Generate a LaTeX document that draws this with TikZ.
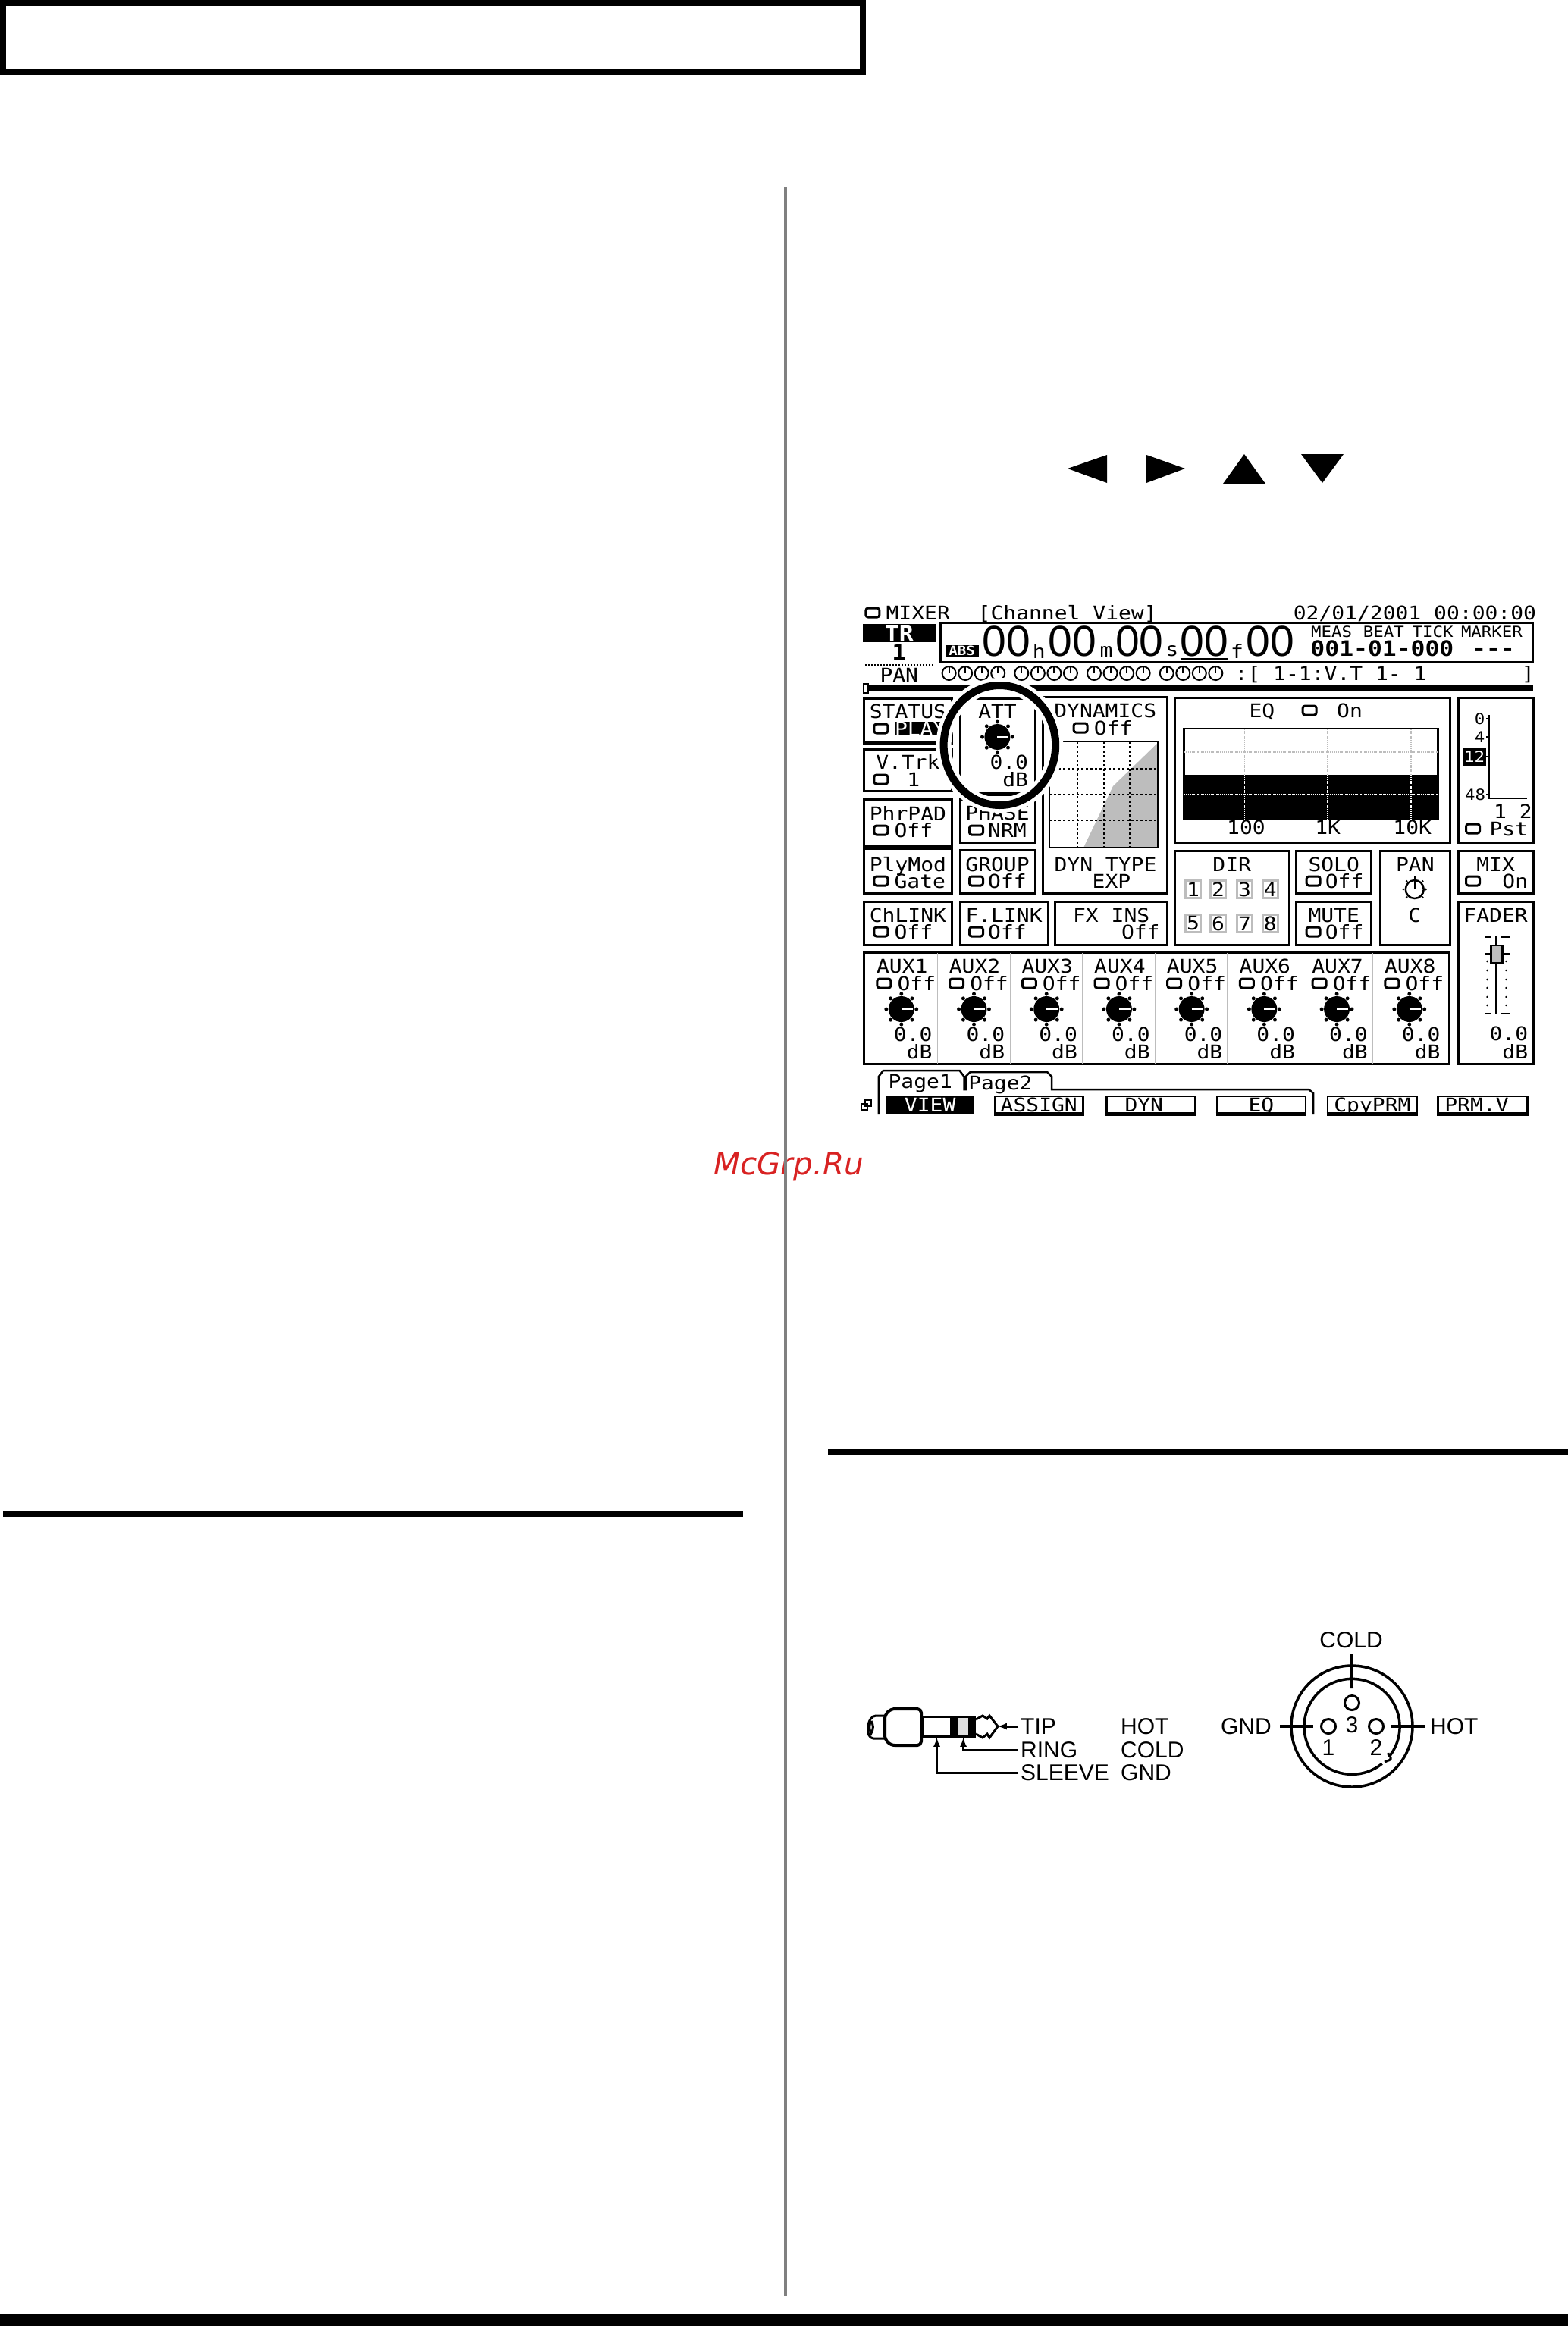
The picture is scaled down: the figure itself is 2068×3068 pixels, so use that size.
\documentclass[tikz,border=0pt]{standalone}
\usepackage{fontspec}
\usepackage{tikz}
\usetikzlibrary{positioning, arrows, shapes, shapes.geometric}

\setmainfont{Liberation Sans}
\newfontfamily\monofam[FakeStretch=1.12]{DejaVu Sans Mono}
\newfontfamily\stampfam{DejaVu Sans}
\newcommand{\lcdfont}{\fontsize{25}{27}\selectfont\monofam}
\newcommand{\lcdsmall}{\fontsize{20}{22}\selectfont\monofam}
\newcommand{\lcdbold}{\fontsize{28}{30}\selectfont\monofam\bfseries}
\newcommand{\bigdigits}{\fontsize{57}{60}\selectfont}
\newcommand{\jackfont}{\fontsize{30}{32}\selectfont}

\definecolor{rulegrey}{HTML}{808080}
\definecolor{lightgrey}{HTML}{BDBDBD}
\definecolor{stampred}{HTML}{D82222}

\tikzset{
	panel/.style={rectangle, draw, line width=3pt, inner sep=0pt, anchor=north west},
	lcd/.style={font=\lcdfont, inner sep=0pt, text height=18pt, text depth=0pt},
	lcdsm/.style={font=\lcdsmall, inner sep=0pt, text height=15pt, text depth=0pt},
	chk/.style={rectangle, draw, line width=3pt, rounded corners=3pt, inner sep=0pt, minimum width=18pt, minimum height=12pt},
	softkey/.style={rectangle, draw, line width=2.5pt, inner sep=0pt, minimum height=22pt, font=\lcdfont, text height=18pt, text depth=0pt},
	dirkey/.style={rectangle, draw=lightgrey, line width=2.5pt, inner sep=0pt, minimum width=20pt, minimum height=23pt, font=\lcdfont},
	jacklab/.style={font=\jackfont, inner sep=3pt, text height=21pt, text depth=0pt, anchor=west},
}

% check box with its value on the right
\newcommand{\togglerow}[4]{
	\node[chk] (#1chk) at (#2,#3) {};
	\node[lcd, right = 7pt of #1chk] (#1val) {#4};
}
% black dial with ticks round it
\newcommand{\bigknob}[2]{
	\fill (#1,#2) circle (17);
	\foreach \a in {0,45,...,315} {
		\fill (#1,#2) ++(\a:20) circle (2.5);
	}
	\draw[white, line width=2pt] (#1,#2) -- ++(15,0);
}

\begin{document}
\begin{tikzpicture}[x=1pt, y=-1pt]
	\useasboundingbox (0,0) rectangle (2068,3068);

	% page frame and rules
	\draw[line width=8pt] (4,4) rectangle (1138,95);
	\fill (0,3052) rectangle (2068,3068);
	\fill (4,1993) rectangle (980,2001);
	\fill (1092,1911) rectangle (2068,1919);
	\node[font=\fontsize{40.5}{42}\selectfont\stampfam\itshape, text=stampred, inner sep=0pt, text height=29pt, text depth=0pt] (stamp) at (1040,1535) {McGrp.Ru};
	\fill[rulegrey] (1034,246) rectangle (1038,3028);

	% cursor buttons
	\fill (1408,618) -- (1460,600) -- (1460,637) -- cycle;
	\fill (1563,618) -- (1512,600) -- (1512,637) -- cycle;
	\fill (1641,599) -- (1613,638) -- (1669,638) -- cycle;
	\fill (1744,637) -- (1716,599) -- (1772,599) -- cycle;

	\begin{scope}[shift={(3.36,0)}, x=0.997pt]
	% head of the screen
	\node[chk] (mixchk) at (1151,808) {};
	\node[lcd, right = 7pt of mixchk] (mixer) {MIXER};
	\node[lcd, anchor=west] (view) at (1290,808) {[Channel View]};
	\node[lcd, anchor=east] (clock) at (2029,808) {02/01/2001 00:00:00};

	\node[rectangle, fill=black, text=white, font=\lcdbold, inner sep=0pt, minimum width=96pt, minimum height=24pt] (tr) at (1186,835) {TR};
	\node[font=\lcdbold, inner sep=0pt, text height=20pt, text depth=0pt, below = 3pt of tr] (trnum) {1};

	\node[panel, minimum width=781pt, minimum height=52pt] (timebox) at (1239,820) {};
	\node[rectangle, fill=black, text=white, font=\fontsize{17}{18}\selectfont\monofam\bfseries, inner sep=0pt, minimum width=44pt, minimum height=15pt] (abs) at (1269,858) {ABS};
	\foreach \n/\x/\u/\ux in {a/1328/h/1371, b/1415/m/1460, c/1504/s/1547, d/1590/f/1633} {
		\node[font=\bigdigits, inner sep=0pt, text height=40pt, text depth=0pt] (time\n) at (\x,845) {00};
		\node[font=\lcdfont, inner sep=0pt] (unit\n) at (\ux,859) {\u};
	}
	\node[font=\bigdigits, inner sep=0pt, text height=40pt, text depth=0pt] (timee) at (1677,845) {00};
	\draw[line width=2.5pt] (1558,869) -- (1621,869);

	\foreach \t/\x in {MEAS/1758, BEAT/1827, TICK/1892, MARKER/1970} {
		\node[lcdsm] (head\t) at (\x,833) {\t};
	}
	\node[font=\lcdbold, inner sep=0pt, text height=20pt, text depth=0pt] (pos) at (1825,855) {001-01-000};
	\node[font=\lcdbold, inner sep=0pt, text height=20pt, text depth=0pt] (marker) at (1972,855) {---};

	% pan row
	\draw[line width=2pt, dotted] (1141,877) -- (1233,877);
	\node[lcd] (panrow) at (1186,890) {PAN};
	\foreach \g in {1242,1338,1434,1530} {
		\foreach \i in {0,1,2,3} {
			\draw[line width=2pt] (\g+10+21.6*\i,888) circle (9);
			\draw[line width=2pt] (\g+10+21.6*\i,888) -- ++(0,-9);
		}
	}
	\node[lcd, anchor=west] (trackname) at (1630,888) {:[ 1-1:V.T 1- 1};
	\node[lcd] (trackend) at (2018,888) {]};
	\fill (1138,904) rectangle (2025,912);
	\draw[line width=2pt, fill=white] (1139,902) rectangle (1145,914);

	% left columns
	\node[panel, minimum width=116pt, minimum height=57pt] (status) at (1138,920) {};
	\node[lcd, below = 9pt of status.north] (statustxt) {STATUS};
	\node[chk] (statuschk) at (1162,961) {};
	\node[rectangle, fill=black, text=white, font=\lcdfont, inner sep=0pt, minimum width=65pt, minimum height=18pt, anchor=west] (statusval) at (1180,961) {PLAY};
	\draw[line width=5pt] (status.south west) -- (status.south east);
	\node[panel, minimum width=116pt, minimum height=55pt] (vtrk) at (1138,987) {};
	\node[lcd, below = 9pt of vtrk.north] (vtrktxt) {V.Trk};
	\node[chk] (vtrkchk) at (1162,1028) {};
	\node[lcd] (vtrkval) at (1205,1028) {1};
	\node[panel, minimum width=116pt, minimum height=62pt] (phrpad) at (1138,1053) {};
	\node[lcd, below = 11pt of phrpad.north] (phrpadtxt) {PhrPAD};
	\togglerow{phrpad}{1162}{1095}{Off}
	\node[panel, minimum width=116pt, minimum height=59pt] (plymod) at (1138,1118) {};
	\node[lcd, below = 13pt of plymod.north] (plymodtxt) {PlyMod};
	\togglerow{plymod}{1162}{1162}{Gate}
	\node[panel, minimum width=116pt, minimum height=57pt] (chlink) at (1138,1188) {};
	\node[lcd, below = 10pt of chlink.north] (chlinktxt) {ChLINK};
	\togglerow{chlink}{1162}{1229}{Off}

	\node[panel, minimum width=99pt, minimum height=124pt] (att) at (1265,920) {};
	\node[lcd, below = 9pt of att.north] (atttxt) {ATT};
	\bigknob{1316}{972}
	\node[lcd, anchor=east] (attval) at (1357,1005) {0.0};
	\node[lcd, anchor=east] (attunit) at (1357,1028) {dB};
	\draw[line width=5pt] (att.south west) -- (att.south east);
	\node[panel, minimum width=99pt, minimum height=57pt] (phase) at (1265,1053) {};
	\node[lcd, below = 10pt of phase.north] (phasetxt) {PHASE};
	\node[chk] (phasechk) at (1288,1095) {};
	\node[lcd, right = 5pt of phasechk] (phaseval) {NRM};
	\node[panel, minimum width=99pt, minimum height=57pt] (group) at (1265,1120) {};
	\node[lcd, below = 11pt of group.north] (grouptxt) {GROUP};
	\node[chk] (groupchk) at (1288,1162) {};
	\node[lcd, right = 5pt of groupchk] (groupval) {Off};
	\node[panel, minimum width=116pt, minimum height=57pt] (flink) at (1265,1188) {};
	\node[lcd, below = 10pt of flink.north] (flinktxt) {F.LINK};
	\node[chk] (flinkchk) at (1288,1229) {};
	\node[lcd, right = 5pt of flinkchk] (flinkval) {Off};
	\node[panel, minimum width=148pt, minimum height=57pt] (fxins) at (1391,1188) {};
	\node[lcd, below = 10pt of fxins.north] (fxinstxt) {FX INS};
	\node[lcd, anchor=east] (fxinsval) at (1531,1229) {Off};

	% dynamics
	\node[panel, minimum width=164pt, minimum height=259pt] (dyn) at (1375,918) {};
	\node[lcd, below = 10pt of dyn.north] (dyntxt) {DYNAMICS};
	\node[chk] (dynchk) at (1426,960) {};
	\node[lcd, right = 7pt of dynchk] (dynval) {Off};
	\fill[lightgrey] (1430,1118) -- (1469,1037) -- (1528,980) -- (1528,1118) -- cycle;
	\draw[line width=2.5pt] (1385,978) rectangle (1528,1118);
	\foreach \x in {1422,1457,1491} {
		\draw[line width=2.5pt, dash pattern=on 3pt off 3pt] (\x,978) -- (\x,1118);
	}
	\foreach \y in {1014,1048,1082} {
		\draw[line width=2.5pt, dash pattern=on 3pt off 3pt] (1385,\y) -- (1528,\y);
	}
	\node[lcd] (dyntype) at (1459,1140) {DYN TYPE};
	\node[lcd, below = 4pt of dyntype] (dynexp) {\hspace*{16pt}EXP};

	% eq
	\node[panel, minimum width=363pt, minimum height=191pt] (eq) at (1549,919) {};
	\node[lcd] (eqtxt) at (1666,937) {EQ};
	\node[chk] (eqchk) at (1729,937) {};
	\node[lcd] (eqval) at (1782,937) {On};
	\fill (1563,1022) rectangle (1899,1080);
	\draw[line width=2.5pt] (1563,961) rectangle (1899,1080);
	\foreach \x in {1643,1753,1863} {
		\draw[lightgrey, line width=1.5pt, densely dotted] (\x,961) -- (\x,1022);
		\draw[white, line width=1.5pt, densely dotted] (\x,1022) -- (\x,1080);
	}
	\draw[lightgrey, line width=1.5pt, densely dotted] (1563,992) -- (1899,992);
	\draw[white, line width=1.5pt, densely dotted] (1563,1048) -- (1899,1048);
	\node[lcd] (eqa) at (1645,1091) {100};
	\node[lcd] (eqb) at (1753,1091) {1K};
	\node[lcd] (eqc) at (1865,1091) {10K};

	% level meter
	\node[panel, minimum width=99pt, minimum height=191pt] (meter) at (1924,919) {};
	\draw[line width=2pt] (1967,943) -- (1967,1053) -- (2017,1053);
	\foreach \y in {948,972,998,1048} {
		\draw[line width=2pt] (1963,\y) -- (1967,\y);
	}
	\node[lcdsm] (metera) at (1954,948) {0};
	\node[lcdsm] (meterb) at (1954,972) {4};
	\node[rectangle, fill=black, text=white, font=\lcdsmall, inner sep=0pt, minimum width=30pt, minimum height=23pt] (meterc) at (1947,998) {12};
	\node[lcdsm] (meterd) at (1948,1048) {48};
	\node[lcd] (metercols) at (1998,1070) {1 2};
	\node[chk] (meterchk) at (1945,1093) {};
	\node[lcd, anchor=east] (meterval) at (2018,1093) {Pst};

	% dir, solo, mute, pan, mix
	\node[panel, minimum width=151pt, minimum height=124pt] (dir) at (1549,1121) {};
	\node[lcd, below = 10pt of dir.north] (dirtxt) {DIR};
	\foreach \n/\x in {1/1575, 2/1608, 3/1643, 4/1677} {
		\node[dirkey] (dirup\n) at (\x,1173) {\n};
	}
	\foreach \n/\x in {5/1575, 6/1608, 7/1643, 8/1677} {
		\node[dirkey] (dirdn\n) at (\x,1218) {\n};
	}
	\node[panel, minimum width=99pt, minimum height=56pt] (solo) at (1710,1121) {};
	\node[lcd, below = 10pt of solo.north] (solotxt) {SOLO};
	\node[chk] (solochk) at (1734,1162) {};
	\node[lcd, right = 5pt of solochk] (soloval) {Off};
	\node[panel, minimum width=99pt, minimum height=57pt] (mute) at (1710,1188) {};
	\node[lcd, below = 10pt of mute.north] (mutetxt) {MUTE};
	\node[chk] (mutechk) at (1734,1229) {};
	\node[lcd, right = 5pt of mutechk] (muteval) {Off};
	\node[panel, minimum width=92pt, minimum height=124pt] (pan) at (1821,1121) {};
	\node[lcd, below = 10pt of pan.north] (pantxt) {PAN};
	\draw[line width=2.5pt] (1868,1173) circle (12);
	\draw[line width=2.5pt] (1868,1173) -- ++(0,-17);
	\foreach \a in {-45,0,45,135,180,225} {
		\fill (1868,1173) ++(\a:15) circle (1.5);
	}
	\node[lcd] (panval) at (1868,1207) {C};
	\node[panel, minimum width=99pt, minimum height=56pt] (mix) at (1924,1121) {};
	\node[lcd, below = 10pt of mix.north] (mixtxt) {MIX};
	\node[chk] (mixonchk) at (1945,1162) {};
	\node[lcd, anchor=east] (mixval) at (2018,1162) {On};

	% aux sends
	\node[panel, minimum width=772pt, minimum height=147pt] (aux) at (1138,1255) {};
	\foreach \i in {1,...,7} {
		\draw[lightgrey, line width=1.5pt] (1237+95.9*\i-95.9,1257) -- (1237+95.9*\i-95.9,1403);
	}
	\foreach \i in {1,...,8} {
		\pgfmathsetmacro{\cx}{1094+96*\i}
		\node[lcd] (aux\i txt) at (\cx,1274) {AUX\i};
		\togglerow{aux\i}{\cx-24}{1297}{Off}
		\bigknob{\cx-1}{1331}
		\node[lcd, anchor=east] (aux\i amt) at (\cx+40,1364) {0.0};
		\node[lcd, anchor=east] (aux\i unit) at (\cx+40,1387) {dB};
	}

	% fader
	\node[panel, minimum width=99pt, minimum height=214pt] (fader) at (1924,1188) {};
	\node[lcd, below = 10pt of fader.north] (fadertxt) {FADER};
	\draw[line width=2.5pt] (1976,1235) -- (1976,1338);
	\foreach \y in {1236,1337} {
		\draw[line width=2.5pt] (1961,\y) -- (1969,\y);
		\draw[line width=2.5pt] (1983,\y) -- (1994,\y);
	}
	\foreach \y in {1268,1280,1292,1303,1315,1326} {
		\fill (1964,\y) circle (1.3);
		\fill (1989,\y) circle (1.3);
	}
	\draw[line width=2.5pt] (1961,1258) -- (1994,1258);
	\draw[line width=2.5pt, fill=lightgrey] (1969,1247) rectangle (1984,1270);
	\node[lcd, anchor=east] (faderamt) at (2018,1363) {0.0};
	\node[lcd, anchor=east] (faderunit) at (2018,1387) {dB};

	% tabs and function keys
	\draw[line width=2.5pt] (1159,1470) -- (1159,1420) -- (1165,1412) -- (1266,1412) -- (1272,1420) -- (1272,1437) -- (1274,1437) -- (1274,1420) -- (1280,1414) -- (1382,1414) -- (1388,1420) -- (1388,1437) -- (1728,1437) -- (1734,1442) -- (1734,1470);
	\node[lcd] (pagea) at (1214,1426) {Page1};
	\node[lcd] (pageb) at (1320,1428) {Page2};
	\draw[line width=2pt] (1136,1456) rectangle (1144,1464);
	\draw[line width=2pt] (1141,1451) rectangle (1149,1459);

	\node[rectangle, fill=black, text=white, font=\lcdfont, inner sep=0pt, minimum width=117pt, minimum height=25pt, text height=18pt, text depth=0pt] (keya) at (1227,1457) {VIEW};
	\foreach \n/\t/\x/\w in {b/ASSIGN/1371/116, c/{DYN\hspace*{18pt}}/1519/117, d/EQ/1665/117, e/CpyPRM/1812/118, f/{PRM.V\hspace*{16pt}}/1958/118} {
		\node[softkey, minimum width=\w pt] (key\n) at (\x,1457) {\t};
		\draw[line width=5pt] (key\n.south west) -- (key\n.south east);
	}

	% ring round the dial
	\draw[white, line width=20pt] (1319,983) ellipse (74 and 79);
	\draw[line width=10pt] (1319,983) ellipse (74 and 79);
	\end{scope}

	% jack plug
	\draw[line width=3pt] (1169,2263) -- (1155,2263) to[out=180, in=180] (1152,2293) -- (1169,2293);
	\draw[line width=3pt] (1149,2270) to[out=-60, in=60] (1149,2286) to[out=120, in=-120] (1149,2270);
	\draw[line width=4pt, rounded corners=5pt] (1215,2254) -- (1175,2254) -- (1167,2262) -- (1167,2294) -- (1175,2302) -- (1215,2302) -- cycle;
	\node[rectangle, draw, line width=3pt, minimum width=38pt, minimum height=26pt, inner sep=0pt, anchor=north west] (sleeve) at (1215,2263) {};
	\fill (1256,2263) rectangle (1261,2292);
	\node[rectangle, draw, line width=3pt, fill=lightgrey!50, minimum width=16pt, minimum height=26pt, inner sep=0pt, anchor=north west] (ring) at (1261,2263) {};
	\fill (1280,2263) rectangle (1287,2292);
	\draw[line width=3pt] (1287,2268) -- (1296,2263) -- (1302,2267) -- (1305,2263) -- (1316,2277) -- (1305,2292) -- (1302,2287) -- (1296,2292) -- (1287,2287);
	\coordinate (tiptop) at (1316,2277);

	\node[jacklab] (tip) at (1343,2277) {TIP};
	\node[jacklab] (rng) at (1343,2308) {RING};
	\node[jacklab] (slv) at (1343,2338) {SLEEVE};
	\node[jacklab] (hot) at (1475,2277) {HOT};
	\node[jacklab] (cold) at (1475,2308) {COLD};
	\node[jacklab] (gnd) at (1475,2338) {GND};
	\draw[-latex, line width=3pt] (tip) -- (tiptop);
	\draw[-latex, line width=3pt] (rng) -| (ring.south);
	\draw[-latex, line width=3pt] (slv) -| (sleeve.south);

	% xlr connector
	\coordinate (xlr) at (1783,2277);
	\draw[line width=3.5pt] (xlr) circle (80);
	\draw[line width=3.5pt] (1832,2317) arc (39:-309:63);
	\draw[line width=3pt] (1831,2312) to[out=250, in=60] (1834,2320) to[out=240, in=40] (1826,2324);
	\node[circle, draw, line width=3pt, minimum size=19pt, inner sep=0pt] (pinc) at (1783,2246) {};
	\node[circle, draw, line width=3pt, minimum size=19pt, inner sep=0pt] (pina) at (1752,2277) {};
	\node[circle, draw, line width=3pt, minimum size=19pt, inner sep=0pt] (pinb) at (1815,2277) {};
	\node[font=\jackfont, inner sep=0pt] (numc) at (1783,2275) {3};
	\node[font=\jackfont, inner sep=0pt] (numa) at (1752,2305) {1};
	\node[font=\jackfont, inner sep=0pt] (numb) at (1815,2305) {2};

	\node[font=\jackfont, inner sep=3pt, text height=21pt, text depth=0pt] (xcold) at (1782,2163) {COLD};
	\node[font=\jackfont, inner sep=3pt, text height=21pt, text depth=0pt, anchor=east] (xgnd) at (1680,2277) {GND};
	\node[font=\jackfont, inner sep=3pt, text height=21pt, text depth=0pt, anchor=west] (xhot) at (1883,2277) {HOT};
	\draw[line width=4pt, shorten <=5pt] (xcold) -- (1783,2227);
	\draw[line width=4pt, shorten <=8pt] (xgnd) -- (1732,2277);
	\draw[line width=4pt, shorten <=4pt] (xhot) -- (1835,2277);
\end{tikzpicture}
\end{document}
